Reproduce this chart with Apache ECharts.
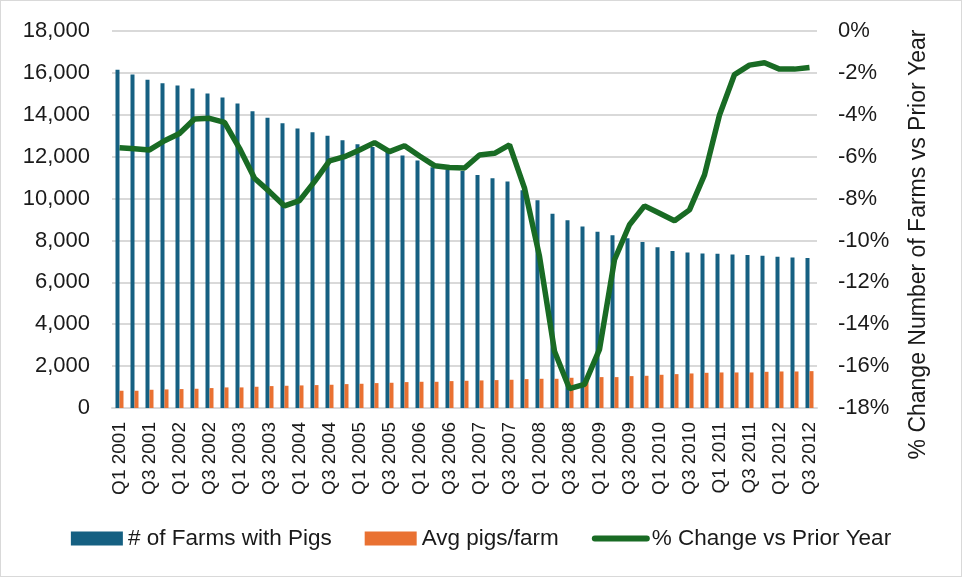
<!DOCTYPE html>
<html>
<head>
<meta charset="utf-8">
<script src="https://cdn.jsdelivr.net/npm/echarts@6/dist/echarts.min.js"></script>
<style>
  html, body { margin: 0; padding: 0; background: #fff; }
  #chart { width: 960px; height: 575px; border: 1px solid #d9d9d9; }
</style>
</head>
<body>
<div id="chart"></div>
<script>
// quarters Q1 2001 .. Q3 2012
var quarters = [];
for (var y = 2001; y <= 2012; y++) {
  for (var q = 1; q <= 4; q++) {
    if (y === 2012 && q === 4) break;
    quarters.push('Q' + q + ' ' + y);
  }
}

// # of farms with pigs
var farms = [16150, 15920, 15670, 15500, 15400, 15250, 15010, 14820, 14540, 14170,
  13860, 13590, 13350, 13160, 13000, 12780, 12590, 12460, 12220, 12060,
  11820, 11500, 11380, 11310, 11120, 10970, 10810, 10400, 9920, 9270,
  8970, 8670, 8410, 8250, 8100, 7920, 7680, 7500, 7430, 7380,
  7360, 7330, 7300, 7270, 7220, 7190, 7160];

// avg pigs per farm
var avgPigs = [824, 824, 871, 887, 903, 919, 951, 983, 983, 1014,
  1046, 1062, 1078, 1094, 1110, 1141, 1157, 1189, 1205, 1237,
  1252, 1252, 1284, 1300, 1316, 1332, 1348, 1379, 1395, 1395,
  1443, 1460, 1475, 1475, 1522, 1538, 1586, 1617, 1649, 1681,
  1697, 1697, 1697, 1729, 1744, 1744, 1760];

// % change vs prior year
var pctChange = [-5.57, -5.62, -5.68, -5.24, -4.89, -4.20, -4.17, -4.36, -5.60, -7.03,
  -7.67, -8.35, -8.10, -7.19, -6.20, -6.00, -5.68, -5.33, -5.76, -5.48,
  -5.97, -6.43, -6.52, -6.54, -5.92, -5.84, -5.44, -7.50, -10.76, -15.29,
  -17.08, -16.87, -15.20, -10.92, -9.25, -8.35, -8.70, -9.06, -8.54, -6.87,
  -4.01, -2.08, -1.63, -1.52, -1.82, -1.82, -1.74];

var chart = echarts.init(document.getElementById('chart'));

var labelFont = 'Liberation Sans, Arial, sans-serif';
var textColor = '#1a1a1a';

var option = {
  backgroundColor: '#ffffff',
  animation: false,
  color: ['#156082', '#E97132', '#196B24'],
  grid: {
    left: 111,
    right: 144,
    top: 30,
    bottom: 168
  },
  legend: {
    bottom: 21,
    left: 'center',
    itemWidth: 52,
    itemHeight: 14,
    itemGap: 33,
    textStyle: {
      fontFamily: labelFont,
      fontSize: 22.5,
      color: textColor
    },
    data: [
      { name: '# of Farms with Pigs', icon: 'rect' },
      { name: 'Avg pigs/farm', icon: 'rect' },
      {
        name: '% Change vs Prior Year',
        itemStyle: { opacity: 0 },
        lineStyle: { width: 6, cap: 'round', color: '#196B24' }
      }
    ]
  },
  xAxis: {
    type: 'category',
    data: quarters,
    axisTick: { show: false },
    axisLine: { lineStyle: { color: '#d9d9d9', width: 2 } },
    axisLabel: {
      interval: 1,
      rotate: 90,
      margin: 14,
      fontFamily: labelFont,
      fontSize: 19,
      color: textColor
    }
  },
  yAxis: [{
    type: 'value',
    min: 0,
    max: 18000,
    interval: 2000,
    axisLine: { show: false },
    axisTick: { show: false },
    splitLine: { lineStyle: { color: '#d9d9d9', width: 2 } },
    axisLabel: {
      margin: 22,
      fontFamily: labelFont,
      fontSize: 22,
      color: textColor,
      formatter: function (v) { return v.toLocaleString('en-US'); }
    }
  }, {
    type: 'value',
    min: -18,
    max: 0,
    interval: 2,
    axisLine: { show: false },
    axisTick: { show: false },
    splitLine: { show: false },
    name: '% Change Number of Farms vs Prior Year',
    nameLocation: 'middle',
    nameRotate: 90,
    nameGap: 90,
    nameTextStyle: {
      fontFamily: labelFont,
      fontSize: 23,
      color: textColor,
      padding: [0, 50, 0, 0]
    },
    axisLabel: {
      margin: 21,
      fontFamily: labelFont,
      fontSize: 22,
      color: textColor,
      formatter: '{value}%'
    }
  }],
  series: [{
    name: '# of Farms with Pigs',
    type: 'bar',
    data: farms,
    barWidth: 4,
    barGap: '0%'
  }, {
    name: 'Avg pigs/farm',
    type: 'bar',
    data: avgPigs,
    barWidth: 4,
    barGap: '0%'
  }, {
    name: '% Change vs Prior Year',
    type: 'line',
    yAxisIndex: 1,
    data: pctChange,
    symbol: 'none',
    lineStyle: { width: 5.5, color: '#196B24' },
    itemStyle: { color: '#196B24' }
  }]
};

chart.setOption(option);
</script>
</body>
</html>
